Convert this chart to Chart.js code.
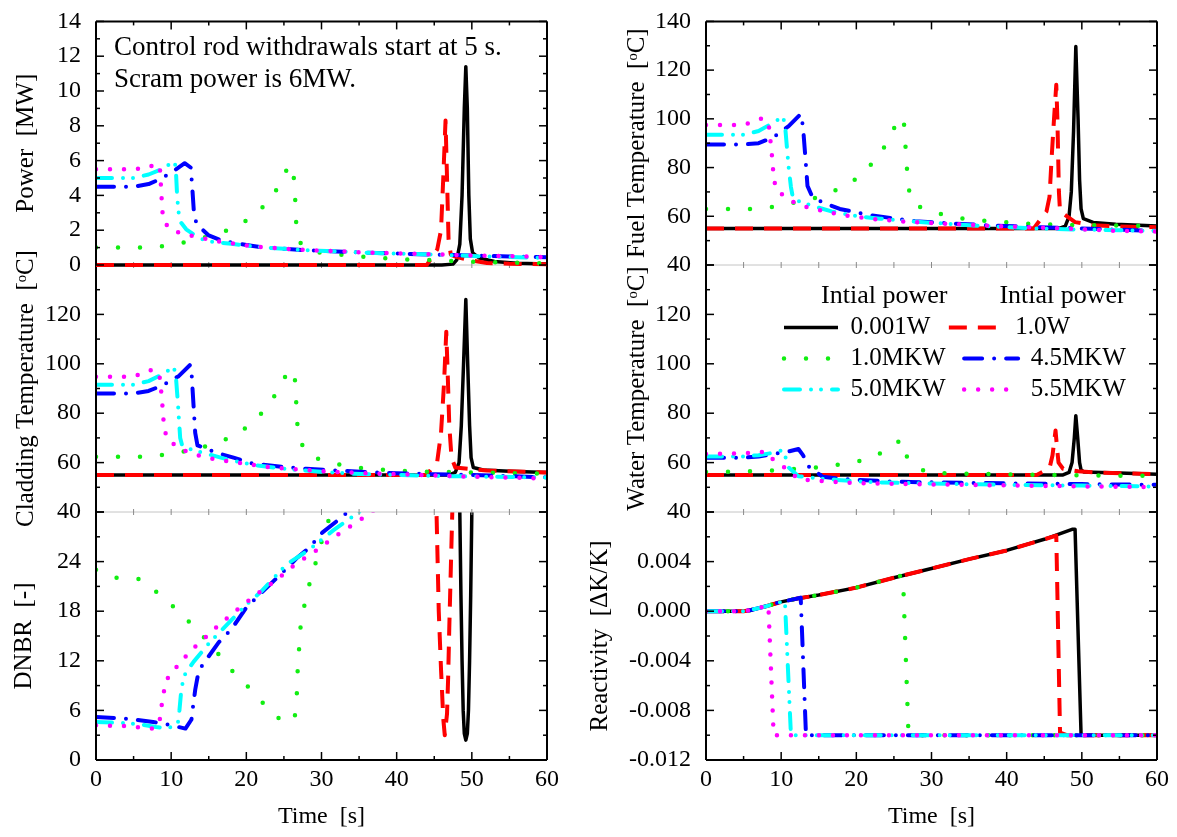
<!DOCTYPE html>
<html>
<head>
<meta charset="utf-8">
<script src="https://cdn.jsdelivr.net/npm/chart.js@4/dist/chart.umd.min.js"></script>
<style>
  html, body { margin: 0; padding: 0; background: #fff; }
  #wrap { position: relative; width: 1177px; height: 837px; overflow: hidden; background: #fff; }
  #wrap canvas { position: absolute; top: 0; }
</style>
</head>
<body>
<div id="wrap"></div>
<script>
// 系列名（初期出力）
const seriesLabels = ['0.001W', '1.0W', '1.0MKW', '4.5MKW', '5.0MKW', '5.5MKW'];
const timeTicks = [0, 60, 10];   // min, max, step

// Power [MW]  ([time, value])
const pw_001W = [[0,0],[46,0],[47.5,0.05],[48,0.3],[48.4,1.2],[48.7,4],[49.0,9],[49.2,11.4],[49.4,9],[49.6,4],[49.8,1.5],[50.1,0.7],[51,0.4],[53,0.2],[56,0.1],[60,0.06]];
const pw_1W = [[0,0],[44,0],[45.4,0.9],[45.9,2],[46.2,5],[46.5,8.3],[46.7,5],[46.9,1.5],[47.2,0.6],[48,0.45],[49,0.35],[50,0.25],[52,0.12],[55,0.07],[60,0.04]];
const pw_1MKW = [[0,1.0],[6.3,1.0],[9.4,1.1],[12.5,1.36],[15.4,1.7],[18.3,2.1],[20.7,2.75],[23.1,3.7],[24.6,4.75],[25.7,5.8],[26.3,5.1],[26.5,3.8],[26.6,2.55],[27.0,1.36],[28,0.9],[30,0.7],[33,0.57],[36.3,0.45],[39.2,0.36],[42.5,0.3],[45.4,0.27],[48.7,0.2],[51.6,0.18],[54.9,0.13],[57.8,0.11],[60,0.1]];
const pw_45MKW = [[0,4.5],[5,4.5],[7,4.65],[8.6,4.95],[10,5.3],[11.8,5.85],[12.6,5.6],[12.8,4.5],[13.0,3.2],[13.3,2.5],[14,2.1],[15,1.7],[16.5,1.45],[18,1.3],[20,1.15],[22,1.02],[25,0.93],[28,0.85],[32,0.78],[36,0.71],[40,0.66],[45,0.6],[50,0.54],[55,0.49],[60,0.45]];
const pw_50MKW = [[0,5.0],[5,5.0],[7,5.2],[9,5.55],[10.3,5.95],[10.6,5.7],[10.8,3.9],[11.0,3.0],[11.2,2.5],[12,2.05],[13,1.75],[14,1.5],[15.5,1.33],[18,1.22],[20,1.12],[22,1.02],[25,0.93],[28,0.85],[32,0.78],[36,0.71],[40,0.65],[45,0.6],[50,0.52],[55,0.46],[60,0.4]];
const pw_55MKW = [[0,5.5],[5,5.5],[7,5.6],[8,5.85],[8.5,5.6],[8.7,4.1],[8.8,3.2],[9.0,2.5],[10,2.0],[12,1.75],[14,1.55],[15.7,1.4],[18,1.25],[20,1.12],[22,1.03],[25,0.94],[28,0.86],[32,0.79],[36,0.72],[40,0.67],[45,0.61],[50,0.55],[55,0.5],[60,0.46]];

// Cladding temperature [oC]
const cl_001W = [[0,55],[47,55],[47.8,56],[48.3,60],[48.6,75],[48.9,100],[49.2,126],[49.45,100],[49.7,75],[49.9,62],[50.2,58],[51.5,57],[55,56.5],[60,56]];
const cl_1W = [[0,55],[44,55],[45.4,60.5],[45.9,72],[46.3,92],[46.6,113],[46.8,95],[47.0,75],[47.3,62],[47.8,58],[49.5,57.5],[52,56.8],[60,56]];
const cl_1MKW = [[0,62.4],[6.3,62.4],[9.3,63.2],[12.5,64.9],[15.4,67.2],[18.1,70.5],[20.4,75],[22.6,81.8],[24.4,90],[25.6,97.4],[26.4,96.6],[26.6,87.6],[26.7,78.4],[27.0,69],[28.6,62.4],[31.6,59.7],[34.6,58],[37.9,57.2],[40.9,56.6],[44,56.3],[50,56],[56.3,55.7],[60,55.6]];
const cl_45MKW = [[0,88],[5,88],[7,89],[9,91.5],[11,95],[12.5,99.5],[12.7,97],[13.0,82],[13.2,72],[13.5,67],[14.4,66],[16,64],[18.3,62],[21,59.5],[25,58.2],[28,57.5],[32,56.8],[36,56.2],[40,55.7],[45,55.3],[50,55],[55,54.5],[60,54]];
const cl_50MKW = [[0,91.5],[5,91.5],[7,93],[9,96],[10.3,98.8],[10.6,96],[10.9,84],[11.0,79],[11.2,70],[11.5,66.5],[13,65],[15.4,63],[17.8,61],[21,59],[25,57.5],[29,56.5],[34,55.5],[40,55],[45,54.6],[52,54.3],[60,54]];
const cl_55MKW = [[0,94.8],[5,94.8],[7.2,97.5],[8.4,96.5],[8.6,91],[8.8,85],[8.9,79.5],[9.1,74],[9.4,70],[10.9,66],[12.6,63.8],[14.4,62.2],[16.3,61],[18.2,60.3],[20,59.5],[22,58.5],[25,57.6],[28,57],[32,56.2],[36,55.7],[40,55.3],[45,54.8],[50,54.3],[55,53.9],[60,53.6]];

// DNBR [-]
const dn_001W = [[48.2,33],[48.4,30],[48.55,20],[48.7,12],[48.85,6],[49.0,3.2],[49.2,2.4],[49.4,3.2],[49.55,6],[49.7,12],[49.85,20],[50.0,30],[50.1,33]];
const dn_1W = [[45.0,33],[45.3,30],[45.5,22],[45.6,18],[45.9,11],[46.2,5],[46.4,3.0],[46.7,5.6],[46.85,10],[47.0,16],[47.2,23],[47.4,30],[47.5,33]];
const dn_1MKW = [[0,23],[2.9,22],[5.7,21.9],[7.8,20.5],[10,18.8],[12.2,16.9],[14.4,14.8],[16.3,12.8],[18.3,10.6],[20.4,8.7],[22.4,6.7],[24.6,4.8],[26.4,4.8],[26.7,7.5],[26.8,10.4],[27.0,13.2],[27.2,16],[27.7,18.6],[28.4,21.3],[29.3,24.1],[30.1,26.7],[31.1,29.4],[31.5,31]];
const dn_45MKW = [[0,5.2],[4,5.0],[7.6,4.6],[9,4.4],[11.9,3.8],[12.7,4.9],[12.9,6.4],[13.2,8.5],[13.5,10],[14.1,11.4],[16.3,14.2],[18,15.8],[19.9,18.3],[21.3,19.6],[25.4,23.2],[26.8,24.5],[28.4,25.7],[30.1,27.5],[32.6,29.3],[33.5,30],[34.5,31]];
const dn_50MKW = [[0,4.6],[3,4.5],[6,4.3],[8,4.0],[9.6,3.8],[10.9,4.5],[11.1,6],[11.3,8],[11.5,9.2],[11.9,10.5],[13,11.9],[15.1,14.2],[16.4,15.4],[18.2,17.1],[20,18.8],[22,20.4],[25.4,23.7],[28.3,25.4],[31.6,27.8],[35,30],[36,30.8]];
const dn_55MKW = [[0,4.2],[4,4.1],[7.5,3.8],[8.4,4.3],[8.7,6.4],[9.0,8.1],[9.3,9.6],[10.4,10.9],[11.5,12.1],[12.8,13.4],[14.3,14.6],[15.7,15.8],[17.1,16.9],[18.4,17.9],[19.9,19],[21.3,20],[22.8,21],[24.3,22],[25.7,23.1],[27.2,24.1],[28.8,25],[30.4,26.1],[31.9,27.1],[33.4,28],[34.9,28.9],[36.5,29.9],[38,31]];

// Fuel temperature [oC]
const fu_001W = [[0,55],[47,55],[47.8,56],[48.3,60],[48.6,70],[48.9,95],[49.2,129.7],[49.5,100],[49.7,75],[49.9,63],[50.2,59],[51.5,57.5],[54.5,56.7],[60,56]];
const fu_1W = [[0,55],[43.6,55],[45.3,62],[45.7,68],[46.0,85],[46.3,100],[46.6,114],[46.75,100],[46.85,85],[46.95,70],[47.1,62],[49.1,57.6],[51.5,56.3],[55,55.8],[60,55.5]];
const fu_1MKW = [[0,63],[6.2,63],[9.3,64],[12.4,66],[15.2,68],[18,71.7],[20.4,76.2],[22.7,83.6],[24.4,91.7],[25.6,100.3],[26.3,100],[26.5,90.6],[26.7,81.2],[26.9,72.1],[27.5,65],[30.5,61.4],[33.6,59.3],[36.7,58.2],[39.8,57.6],[42.9,56.9],[46,56.6],[50,56.4],[55,56.2],[60,56]];
const fu_45MKW = [[0,89.5],[5,89.5],[7,90],[9,92.5],[11,97],[12.6,102],[12.9,97],[13.2,85],[13.5,72.5],[14.1,68.3],[15.3,66],[17.8,63],[21.8,60.5],[25.3,59],[27.8,58],[32.8,57],[39.8,56],[46.8,55.3],[50,55],[57,54.3],[60,54]];
const fu_50MKW = [[0,93.5],[5,93.5],[7,95],[9,98.5],[10.2,101],[10.5,98],[10.8,87],[11.0,80],[11.3,72],[11.6,67],[13.9,64.5],[16.7,62],[20.2,60],[23.2,59],[26.7,58],[31.7,57],[36.7,56],[44,55],[49,54.6],[60,54]];
const fu_55MKW = [[0,97.5],[5,97.5],[7.3,100],[8.3,99],[8.5,93],[8.7,87.5],[8.85,82],[9.0,76],[9.3,71.3],[10.8,67],[12.6,64.5],[14.3,63],[16.2,61.8],[18.1,60.5],[19.9,59.8],[21.9,59],[25.6,58],[31.5,57],[37,56.2],[43,55.5],[49,54.8],[54,54.1],[60,53.7]];

// Water temperature [oC]
const wa_001W = [[0,55],[47.5,55],[48.3,56],[48.7,60],[49.0,70],[49.2,79],[49.45,70],[49.7,60],[49.9,57],[50.3,56.2],[55,55.8],[60,55.3]];
const wa_1W = [[0,55],[44,55],[45.7,57.7],[46.1,63],[46.5,73],[46.7,66],[46.9,60],[47.5,57.5],[49.5,56.5],[52,56],[60,55.3]];
const wa_1MKW = [[0,56.2],[3.2,56.3],[6.2,56.5],[9.3,56.9],[12.4,57.5],[15.5,58.2],[18.6,59.6],[21.5,61.3],[24.2,65.2],[26,69.4],[26.5,66],[26.8,61.3],[29.2,56.2],[32.2,55.6],[38.4,55.3],[44.6,55],[50.9,54.8],[60,54.6]];
const wa_45MKW = [[0,62],[5,62],[7,62.5],[9,63.5],[11,64.5],[12.3,65.5],[12.9,63],[13.7,58.3],[15.5,54.3],[17.6,53.5],[20,53],[25,52.3],[30,52],[40,51.6],[50,51.3],[60,51]];
const wa_50MKW = [[0,62.5],[5,62.5],[7,63],[9,64],[10.2,65],[10.6,62],[11.0,58],[12.3,54.5],[14.3,53.8],[17.5,53],[22.5,52],[30,51.5],[40,51],[50,50.7],[60,50.3]];
const wa_55MKW = [[0,63.5],[5,63.7],[7.3,64.4],[8.4,63.5],[8.6,62],[9.5,60],[10.6,57.7],[12.3,53.3],[14.3,52.7],[16.2,52.4],[18.1,52],[21.8,51.6],[29.5,51.2],[39.6,50.8],[49.6,50.4],[60,50.1]];

// Reactivity [dK/K]
const re_001W = [[0,0],[5,0],[6,0.0001],[7,0.00025],[8,0.0004],[10,0.00075],[12,0.001],[15,0.0013],[20,0.0019],[25,0.0027],[30,0.00344],[35,0.0042],[40,0.0049],[45,0.0058],[48.7,0.0066],[49.1,0.0066],[49.9,-0.01],[60,-0.01]];
const re_1W = [[0,0],[5,0],[6,0.0001],[7,0.00025],[8,0.0004],[10,0.00075],[12,0.001],[15,0.0013],[20,0.0019],[25,0.0027],[30,0.00344],[35,0.0042],[40,0.0049],[45,0.0058],[46.6,0.0061],[47.1,-0.0098],[48,-0.01],[60,-0.01]];
const re_1MKW = [[0,0],[5,0],[6,0.0001],[7,0.00025],[8,0.0004],[10,0.00075],[12,0.001],[15,0.0013],[20,0.0019],[25,0.0027],[26.2,0.0029],[26.9,-0.0093],[27.1,-0.01],[60,-0.01]];
const re_45MKW = [[0,0],[5,0],[6,0.0001],[7,0.00025],[8,0.0004],[10,0.00075],[12,0.001],[12.6,0.0011],[13.3,-0.01],[60,-0.01]];
const re_50MKW = [[0,0],[5,0],[6,0.0001],[7,0.00025],[8,0.0004],[10,0.00075],[10.5,0.0008],[11.3,-0.01],[60,-0.01]];
const re_55MKW = [[0,0],[5,0],[6,0.0001],[7,0.00025],[8,0.0004],[8.3,0.00045],[9.0,-0.01],[60,-0.01]];

// 線のスタイル
const lineStyles = [
  { color: '#000000', width: 3.5, dash: [],                   cap: 'butt'  },
  { color: '#ff0000', width: 4,   dash: [18, 11],             cap: 'butt'  },
  { color: '#11ee11', width: 4.5, dash: [0, 22],              cap: 'round' },
  { color: '#0000ff', width: 4,   dash: [18, 12, 0, 12],      cap: 'round' },
  { color: '#00ffff', width: 4,   dash: [16, 11, 0, 10, 0, 11], cap: 'round' },
  { color: '#ff00ff', width: 4.5, dash: [0, 14],              cap: 'round' }
];

Chart.defaults.font.family = "'Liberation Serif', 'Times New Roman', serif";
Chart.defaults.color = '#000';

const wrap = document.getElementById('wrap');

function makeDatasets(seriesList, clip) {
  return seriesList.map((pts, i) => ({
    label: seriesLabels[i],
    data: pts.map(p => ({ x: p[0], y: p[1] })),
    borderColor: lineStyles[i].color,
    backgroundColor: lineStyles[i].color,
    borderWidth: lineStyles[i].width,
    borderDash: lineStyles[i].dash,
    borderCapStyle: lineStyles[i].cap,
    borderJoinStyle: 'round',
    pointRadius: 0,
    tension: 0,
    fill: false,
    order: -i,
    clip: clip
  }));
}

// 枠と内向きの目盛り
const framePlugin = {
  id: 'frame',
  afterDatasetsDraw(chart, args, o) {
    const { ctx, chartArea: a } = chart;
    const xs = chart.scales.x, ys = chart.scales.y;
    const seg = (x1, y1, x2, y2, color, w) => {
      ctx.beginPath(); ctx.strokeStyle = color; ctx.lineWidth = w;
      ctx.moveTo(x1, y1); ctx.lineTo(x2, y2); ctx.stroke();
    };
    ctx.save();
    ctx.lineCap = 'butt';
    if (o.top === 'black') seg(a.left, a.top, a.right, a.top, '#000', 2);
    else seg(a.left, a.top, a.right, a.top, '#c4c4c4', 1);

    const xStep = xs.options.ticks.stepSize / 2;
    const nx = Math.round((xs.max - xs.min) / xStep);
    for (let i = 0; i <= nx; i++) {
      const px = xs.getPixelForValue(xs.min + i * xStep);
      const len = i % 2 ? 4 : 8;
      if (o.top === 'black') seg(px, a.top, px, a.top + len, '#000', 1.5);
      else seg(px, a.top - 3, px, a.top + 3, '#8a8a8a', 1);
      if (o.bottom === 'black') seg(px, a.bottom, px, a.bottom - len, '#000', 1.5);
    }
    const yStep = ys.options.ticks.stepSize / 2;
    const ny = Math.round((ys.max - ys.min) / yStep);
    for (let i = 0; i <= ny; i++) {
      const py = ys.getPixelForValue(ys.min + i * yStep);
      const len = i % 2 ? 4 : 8;
      seg(a.left, py, a.left + len, py, '#000', 1.5);
      seg(a.right, py, a.right - len, py, '#000', 1.5);
    }
    if (o.bottom === 'black') seg(a.left, a.bottom, a.right, a.bottom, '#000', 2);
    seg(a.left, a.top, a.left, a.bottom, '#000', 2);
    seg(a.right, a.top, a.right, a.bottom, '#000', 2);
    ctx.restore();
  }
};

// 注記テキスト
const notePlugin = {
  id: 'note',
  afterDraw(chart, args, o) {
    if (!o.lines) return;
    const { ctx, chartArea: a } = chart;
    ctx.save();
    ctx.font = "27px 'Liberation Serif', serif";
    ctx.fillStyle = '#000';
    ctx.textBaseline = 'alphabetic';
    o.lines.forEach((t, i) => ctx.fillText(t, a.left + 18, a.top + 34 + i * 32));
    ctx.restore();
  }
};

// 列と段の配置
const columns = [
  { left: 0,   width: 575, axisW: 96,  padRight: 28 },
  { left: 575, width: 602, axisW: 131, padRight: 20 }
];
const rows = [
  { padTop: 18,  padBottom: 572, xAxis: false, top: 'black', bottom: 'none'  },
  { padTop: 265, padBottom: 325, xAxis: false, top: 'gray',  bottom: 'none'  },
  { padTop: 512, padBottom: 0,   xAxis: true,  top: 'gray',  bottom: 'black' }
];

const panels = [
  { col: 0, row: 0, series: [pw_001W, pw_1W, pw_1MKW, pw_45MKW, pw_50MKW, pw_55MKW], y: [0, 14, 2], title: 'Power  [MW]', hideTop: false, titleX: 11.6, clip: { left: 0, top: 0, right: 0, bottom: 3 },
    note: ['Control rod withdrawals start at 5 s.', 'Scram power is 6MW.'] },
  { col: 0, row: 1, series: [cl_001W, cl_1W, cl_1MKW, cl_45MKW, cl_50MKW, cl_55MKW], y: [40, 140, 20], title: 'Cladding Temperature  [ᵒC]', hideTop: true, titleX: 11.6, clip: 0 },
  { col: 0, row: 2, series: [dn_001W, dn_1W, dn_1MKW, dn_45MKW, dn_50MKW, dn_55MKW], y: [0, 30, 6], title: 'DNBR  [-]', hideTop: true, titleX: 9, clip: 0 },
  { col: 1, row: 0, series: [fu_001W, fu_1W, fu_1MKW, fu_45MKW, fu_50MKW, fu_55MKW], y: [40, 140, 20], title: 'Fuel Temperature  [ᵒC]', hideTop: false, titleX: 47.6, clip: 0 },
  { col: 1, row: 1, series: [wa_001W, wa_1W, wa_1MKW, wa_45MKW, wa_50MKW, wa_55MKW], y: [40, 140, 20], title: 'Water Temperature  [ᵒC]', hideTop: true, titleX: 47.6, clip: 0 },
  { col: 1, row: 2, series: [re_001W, re_1W, re_1MKW, re_45MKW, re_50MKW, re_55MKW], y: [-0.012, 0.008, 0.004], title: 'Reactivity  [ΔK/K]', hideTop: true, titleX: 10.6, clip: 0, decimals: 3 }
];

panels.forEach(p => {
  const col = columns[p.col], row = rows[p.row];
  const canvas = document.createElement('canvas');
  canvas.width = col.width; canvas.height = 837;
  canvas.style.left = col.left + 'px';
  canvas.style.zIndex = String(10 - p.row);   // 上段の線を境界線より前に
  wrap.appendChild(canvas);

  new Chart(canvas, {
    type: 'line',
    data: { datasets: makeDatasets(p.series, p.clip) },
    plugins: [framePlugin, notePlugin],
    options: {
      responsive: false,
      animation: false,
      events: [],
      layout: { padding: { left: 0, right: col.padRight, top: row.padTop, bottom: row.padBottom } },
      plugins: {
        legend: { display: false },
        tooltip: { enabled: false },
        frame: { top: row.top, bottom: row.bottom },
        note: { lines: p.note }
      },
      scales: {
        x: {
          type: 'linear',
          min: timeTicks[0], max: timeTicks[1],
          display: row.xAxis,
          afterFit: s => { s.height = row.xAxis ? 77 : 0; },
          grid: { display: false },
          border: { display: false },
          ticks: { stepSize: timeTicks[2], font: { size: 24, lineHeight: 1 }, padding: 0, maxRotation: 0, autoSkip: false },
          title: { display: true, text: 'Time  [s]', font: { size: 24 }, padding: { top: 0, bottom: 6 } }
        },
        y: {
          type: 'linear',
          min: p.y[0], max: p.y[1],
          afterFit: s => { s.width = col.axisW; },
          grid: { display: false },
          border: { display: false },
          ticks: {
            stepSize: p.y[2],
            autoSkip: false,
            font: { size: 24 },
            padding: 7,
            callback: v => {
              if (p.hideTop && Math.abs(v - p.y[1]) < 1e-9) return '';
              if (p.decimals) return (Math.abs(v) < 1e-9 ? 0 : v).toFixed(p.decimals);
              return v;
            }
          },
          title: { display: true, text: p.title, font: { size: 25 }, padding: { top: p.titleX, bottom: 0 } }
        }
      }
    }
  });
});

// 凡例（水温パネル内）
const legendPad = ['\u2002', '', '\u2002', '', '\u2002', ''];
const legendCanvas = document.createElement('canvas');
legendCanvas.width = 370; legendCanvas.height = 320;
legendCanvas.style.left = '778px'; legendCanvas.style.top = '283px';
legendCanvas.style.zIndex = '20';
wrap.appendChild(legendCanvas);

new Chart(legendCanvas, {
  type: 'line',
  data: { datasets: makeDatasets(seriesLabels.map(() => []), 0) },
  options: {
    responsive: false,
    animation: false,
    events: [],
    layout: { padding: 0 },
    scales: { x: { type: 'linear', display: false }, y: { display: false } },
    plugins: {
      tooltip: { enabled: false },
      legend: {
        display: true,
        position: 'top',
        align: 'start',
        title: { display: true, text: 'Intial power        Intial power', position: 'end', color: '#000', font: { size: 26, lineHeight: 1 }, padding: 0 },
        labels: {
          font: { size: 25 },
          color: '#000',
          padding: 6,
          usePointStyle: true,
          pointStyleWidth: 54,
          generateLabels: chart => chart.data.datasets.map((ds, i) => ({
            text: ds.label + legendPad[i],
            fillStyle: 'rgba(0,0,0,0)',
            strokeStyle: ds.borderColor,
            lineWidth: ds.borderWidth,
            lineDash: ds.borderDash,
            lineCap: ds.borderCapStyle,
            pointStyle: 'line',
            fontColor: '#000',
            hidden: false,
            datasetIndex: i
          }))
        }
      }
    }
  }
});
</script>
</body>
</html>
